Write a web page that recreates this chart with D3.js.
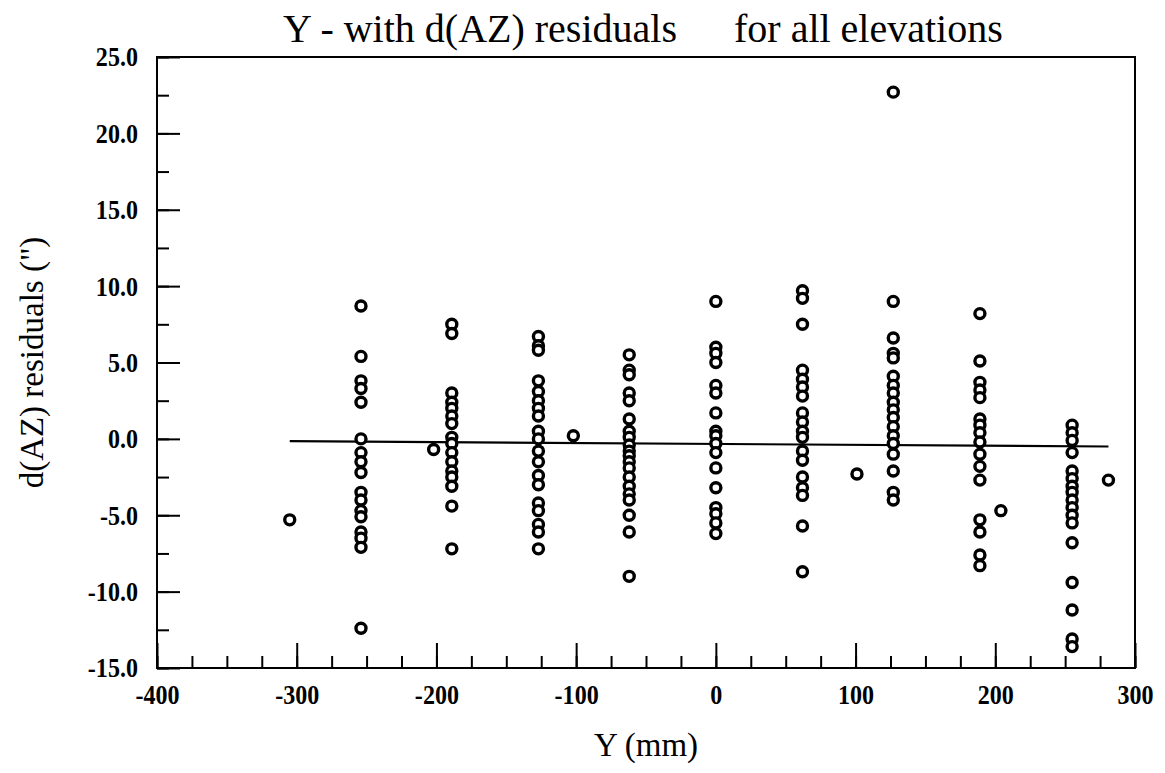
<!DOCTYPE html>
<html>
<head>
<meta charset="utf-8">
<script src="https://cdn.jsdelivr.net/npm/d3@7"></script>
<style>
  body { margin: 0; background: #fff; }
  text { font-family: "Liberation Serif", "Times New Roman", serif; fill: #000; }
</style>
</head>
<body>
<svg id="chart"></svg>
<script>
// Column positions (Y in mm) and the d(AZ) residuals
const colX = [-254, -189, -127, -62, 0, 62, 127, 189, 255];

const resM254 = [8.7, 5.4, 3.8, 3.3, 2.4, 0.0, -0.9, -1.5, -2.2, -3.5, -4.0, -4.7, -5.1, -6.1, -6.5, -7.1, -12.4];
const resM189 = [7.5, 6.9, 3.0, 2.4, 2.0, 1.5, 1.0, 0.1, -0.3, -0.9, -1.5, -2.1, -2.5, -3.1, -4.4, -7.2];
const resM127 = [6.7, 6.1, 5.8, 3.8, 3.1, 2.5, 2.0, 1.5, 0.5, 0.0, -0.8, -1.5, -2.4, -3.0, -4.2, -4.7, -5.6, -6.1, -7.2];
const resM62 = [5.5, 4.5, 4.2, 3.0, 2.5, 1.3, 0.5, 0.1, -0.4, -0.8, -1.1, -1.5, -1.9, -2.5, -3.1, -3.6, -4.0, -5.0, -6.1, -9.0];
const res0 = [9.0, 6.0, 5.6, 5.0, 3.5, 3.0, 1.7, 0.5, 0.2, -0.3, -0.9, -1.9, -3.2, -4.5, -4.9, -5.5, -6.2];
const resP62 = [9.7, 9.2, 7.5, 4.5, 3.9, 3.4, 2.8, 1.7, 1.1, 0.5, 0.1, -0.8, -1.4, -2.5, -3.2, -3.7, -5.7, -8.7];
const resP127 = [22.7, 9.0, 6.6, 5.6, 5.3, 4.1, 3.5, 3.0, 2.4, 1.9, 1.4, 0.8, 0.2, -0.3, -1.0, -2.1, -3.5, -4.0];
const resP189 = [8.2, 5.1, 3.7, 3.2, 2.7, 1.3, 0.9, 0.4, -0.2, -1.0, -1.8, -2.7, -5.3, -6.1, -7.6, -8.3];
const resP255 = [0.9, 0.4, -0.1, -0.9, -2.1, -2.6, -3.1, -3.5, -4.0, -4.5, -5.0, -5.5, -6.8, -9.4, -11.2, -13.1, -13.6];

// single points between the columns
const isoX = [-305, -202, -102, 101, 204, 281];
const isoY = [-5.3, -0.7, 0.2, -2.3, -4.7, -2.7];

// fitted line end points
const fitX = [-305, 281];
const fitY = [-0.15, -0.5];

const xTicks = [-400, -300, -200, -100, 0, 100, 200, 300];
const yTicks = [-15, -10, -5, 0, 5, 10, 15, 20, 25];

const columns = [resM254, resM189, resM127, resM62, res0, resP62, resP127, resP189, resP255];

const width = 1165, height = 773;
const margin = { top: 57, right: 30, bottom: 105, left: 157 };
const innerW = 1135 - margin.left;
const innerH = 668 - margin.top;

const svg = d3.select("#chart").attr("width", width).attr("height", height);
const chart = svg.append("g").attr("transform", `translate(${margin.left},${margin.top})`);

const x = d3.scaleLinear().domain([-400, 300]).range([0, innerW]);
const y = d3.scaleLinear().domain([-15, 25]).range([innerH, 0]);

// plain hyphen for negatives, like the original
const fmtX = d => String(d);
const fmtY = d => d.toFixed(1);

// frame (top and right sides have no ticks)
chart.append("rect")
  .attr("width", innerW).attr("height", innerH)
  .attr("fill", "none").attr("stroke", "#000").attr("stroke-width", 2);

// minor ticks
chart.append("g")
  .attr("transform", `translate(0,${innerH})`)
  .call(d3.axisBottom(x).tickValues(d3.range(-400, 301, 25)).tickSize(-12).tickFormat(""))
  .call(g => g.select(".domain").remove());
chart.append("g")
  .call(d3.axisLeft(y).tickValues(d3.range(-15, 25.1, 2.5)).tickSize(-12).tickFormat(""))
  .call(g => g.select(".domain").remove());

// major ticks + labels
const xAxisG = chart.append("g")
  .attr("transform", `translate(0,${innerH})`)
  .call(d3.axisBottom(x).tickValues(xTicks).tickSize(-25).tickPadding(16).tickFormat(fmtX));
const yAxisG = chart.append("g")
  .call(d3.axisLeft(y).tickValues(yTicks).tickSize(-23).tickPadding(19).tickFormat(fmtY));

// tall, narrow tick labels as in the scanned original
[xAxisG, yAxisG].forEach(g => {
  g.select(".domain").remove();
  g.selectAll("text")
    .style("font-size", "28px")
    .style("font-weight", "bold")
    .style("font-family", "Liberation Serif")
    .each(function () {
      const t = d3.select(this);
      const tx = +t.attr("x") || 0;
      t.attr("x", 0).attr("transform", `translate(${tx},0) scale(0.86,1)`);
    });
});
chart.selectAll(".tick line").attr("stroke", "#000").attr("stroke-width", 2);

// fit line
chart.append("line")
  .attr("x1", x(fitX[0])).attr("y1", y(fitY[0]))
  .attr("x2", x(fitX[1])).attr("y2", y(fitY[1]))
  .attr("stroke", "#000").attr("stroke-width", 2.2);

// points
const points = [];
columns.forEach((vals, i) => vals.forEach(v => points.push([colX[i], v])));
isoX.forEach((v, i) => points.push([v, isoY[i]]));

chart.selectAll(".pt").data(points).join("circle")
  .attr("class", "pt")
  .attr("cx", d => x(d[0]))
  .attr("cy", d => y(d[1]))
  .attr("r", 5)
  .attr("fill", "#fff")
  .attr("stroke", "#000")
  .attr("stroke-width", 3.4);

// title
const title = svg.append("text")
  .attr("x", 283).attr("y", 42)
  .style("font-size", "40px");
title.append("tspan").text("Y - with d(AZ) residuals");
title.append("tspan").attr("dx", 57).text("for all elevations");

// axis titles
svg.append("text")
  .attr("x", 646).attr("y", 756)
  .attr("text-anchor", "middle")
  .style("font-size", "33px")
  .text("Y (mm)");

svg.append("text")
  .attr("transform", `translate(43,${(margin.top + 668) / 2}) rotate(-90)`)
  .attr("text-anchor", "middle")
  .style("font-size", "33px")
  .text("d(AZ) residuals (\")");
</script>
</body>
</html>
